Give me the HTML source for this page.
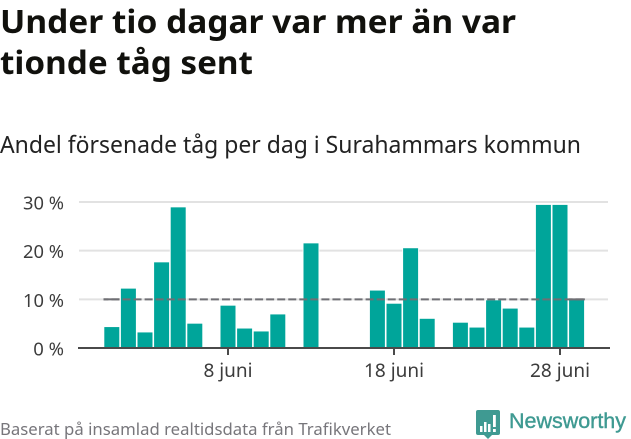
<!DOCTYPE html>
<html lang="sv">
<head>
<meta charset="utf-8">
<title>Andel försenade tåg</title>
<style>
html,body{margin:0;padding:0;background:#fff;width:631px;height:439px;overflow:hidden}
svg{display:block}
text{font-family:"Noto Sans","Open Sans","DejaVu Sans","Liberation Sans",sans-serif}
</style>
</head>
<body>
<svg id="chart" width="631" height="439" viewBox="0 0 631 439" xmlns="http://www.w3.org/2000/svg">
  <text x="0" y="33" font-size="32" font-weight="700" fill="#11110d" textLength="516" lengthAdjust="spacingAndGlyphs">Under tio dagar var mer än var</text>
  <text x="0" y="74" font-size="32" font-weight="700" fill="#11110d" textLength="253" lengthAdjust="spacingAndGlyphs">tionde tåg sent</text>
  <text x="0" y="153" font-size="24" fill="#222" textLength="581" lengthAdjust="spacingAndGlyphs">Andel försenade tåg per dag i Surahammars kommun</text>
  <g id="grid"></g>
  <g id="bars"></g>
  <g id="axis"></g>
  <text x="0" y="435" font-size="16" fill="#77767b" textLength="391" lengthAdjust="spacingAndGlyphs">Baserat på insamlad realtidsdata från Trafikverket</text>
  <g>
    <path d="M478 410H498Q500 410 500 412V433Q500 435 498 435H492L488 439L484 435H478Q476 435 476 433V412Q476 410 478 410Z" fill="#3f9a92"/>
    <g fill="#fff">
      <rect x="480" y="426" width="2.5" height="6"/>
      <rect x="484" y="422" width="2.5" height="10"/>
      <rect x="488" y="424" width="2.5" height="8"/>
      <rect x="493" y="415" width="2.8" height="12"/>
      <rect x="493" y="429" width="2.8" height="3"/>
    </g>
    <text x="509" y="428" font-size="21" fill="#3f9a92" stroke="#3f9a92" stroke-width="0.4" style="font-family:'Liberation Sans',sans-serif" textLength="117" lengthAdjust="spacingAndGlyphs">Newsworthy</text>
  </g>
</svg>
<script>
const days = [1,2,3,4,5,6,8,9,10,11,13,17,18,19,20,22,23,24,25,26,27,28,29];
const delayedShare = [4.3,12.2,3.2,17.6,28.9,5.0,8.7,4.0,3.4,6.9,21.5,11.8,9.1,20.5,6.0,5.2,4.2,9.8,8.1,4.2,29.4,29.4,10.0];
const yTicks = [0,10,20,30];
const yTickLabels = ["0 %","10 %","20 %","30 %"];
const xTicks = [8,18,28];
const xTickLabels = ["8 juni","18 juni","28 juni"];
const referenceValue = [10];
const referenceFromDay = [0.5];
const referenceToDay = [29.5];

const NS = 'http://www.w3.org/2000/svg';
function xScale(day){ return 228 + (day - 8) * 16.6; }
function yScale(value){ return 348 - value * 4.867; }
function make(parent, tag, attrs, text){
  const el = document.createElementNS(NS, tag);
  for (const k in attrs) el.setAttribute(k, attrs[k]);
  if (text !== undefined) el.textContent = text;
  parent.appendChild(el);
  return el;
}
const grid = document.getElementById('grid');
const barsG = document.getElementById('bars');
const axisG = document.getElementById('axis');

yTicks.forEach(function(t, i){
  if (t !== 0) {
    const line = make(grid, 'line', {x1:79, x2:608, y1:yScale(t), y2:yScale(t), stroke:'#e2e2e2', 'stroke-width':2});
    
    
  }
  const label = make(axisG, 'text', {x:64, y:yScale(t)+7.5, 'text-anchor':'end', 'font-size':18, fill:'#3c3c3c', textLength:yTickLabels[i].length * 10.25, lengthAdjust:'spacingAndGlyphs'}, yTickLabels[i]);
  
  
});

days.forEach(function(d, i){
  const top = yScale(delayedShare[i]);
  const bar = make(barsG, 'rect', {x:xScale(d)-7.5, y:top, width:15, height:yScale(0)-top, fill:'#00a59a', stroke:'#fff', 'stroke-width':1.8, 'paint-order':'stroke'});
  
  
});

referenceValue.forEach(function(v, i){
  const x1 = xScale(referenceFromDay[i]);
  const x2 = xScale(referenceToDay[i]);
  const ref = make(axisG, 'line', {x1:x1, x2:x2, y1:yScale(v), y2:yScale(v), stroke:'#6f6f74', 'stroke-width':2, 'stroke-dasharray':'8 3.05', 'stroke-dashoffset':3.1});
  
  
  const capLeft = make(axisG, 'line', {x1:x1, x2:x1+16, y1:yScale(v), y2:yScale(v), stroke:'#6f6f74', 'stroke-width':2});
  
  
  const capRight = make(axisG, 'line', {x1:x2-16, x2:x2, y1:yScale(v), y2:yScale(v), stroke:'#6f6f74', 'stroke-width':2});
  
  
});

const baseline = make(axisG, 'line', {x1:78, x2:610, y1:yScale(0), y2:yScale(0), stroke:'#4a4a4a', 'stroke-width':2});



xTicks.forEach(function(d, i){
  const tick = make(axisG, 'line', {x1:xScale(d), x2:xScale(d), y1:yScale(0), y2:yScale(0)+7, stroke:'#4a4a4a', 'stroke-width':2});
  
  
  const label = make(axisG, 'text', {x:xScale(d), y:377, 'text-anchor':'middle', 'font-size':19, fill:'#3c3c3c'}, xTickLabels[i]);
  
  
});
</script>
</body>
</html>
